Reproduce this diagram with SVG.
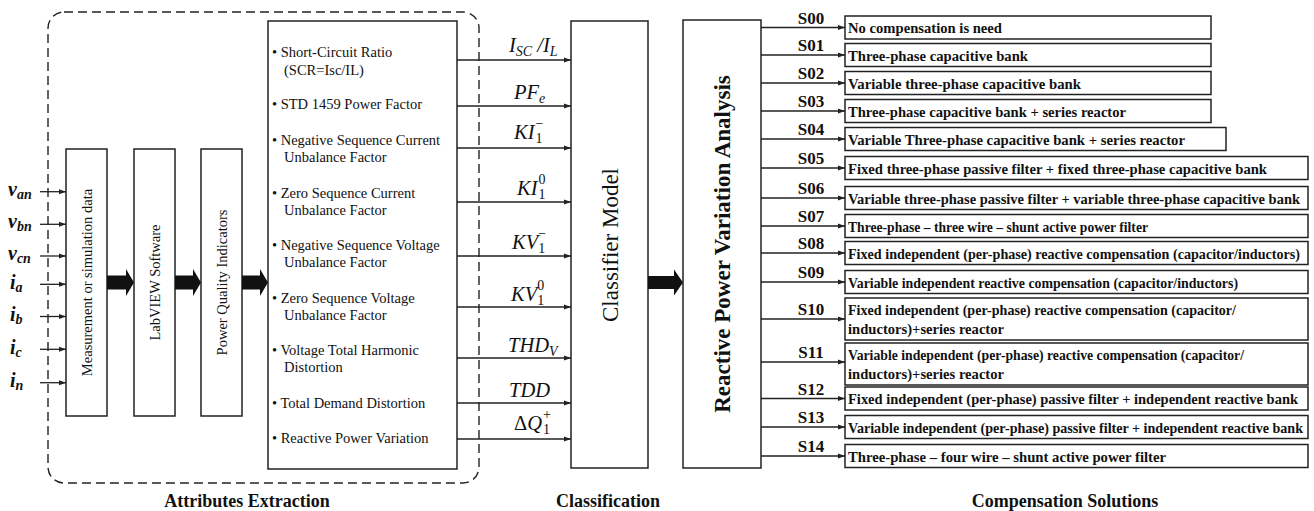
<svg xmlns="http://www.w3.org/2000/svg" width="1314" height="511" viewBox="0 0 1314 511">
<defs>
<style>
.box{fill:#fff;stroke:#222;stroke-width:1.5}
.ln{fill:none;stroke:#222;stroke-width:1.3}
.fat{fill:#111;stroke:none}
.t{font-family:"Liberation Serif","Times New Roman",serif;font-size:14.5px;fill:#111}
.vt{font-family:"Liberation Serif","Times New Roman",serif;font-size:14.5px;fill:#111;text-anchor:middle}
.sb{font-family:"Liberation Serif","Times New Roman",serif;font-size:15.5px;font-weight:bold;fill:#111}
.sw{font-size:14px}
.sl{font-family:"Liberation Serif","Times New Roman",serif;font-size:17px;font-weight:bold;fill:#111;text-anchor:middle}
.cap{font-family:"Liberation Serif","Times New Roman",serif;font-size:18px;font-weight:bold;fill:#111;text-anchor:middle}
.m{font-family:"Liberation Serif","Times New Roman",serif;font-size:20.5px;font-style:italic;fill:#111}
.mi{font-family:"Liberation Serif","Times New Roman",serif;font-size:20px;font-style:italic;font-weight:bold;fill:#111}
.s{font-size:14px}
.u{font-style:normal}
</style>
<marker id="ah" markerUnits="userSpaceOnUse" markerWidth="8" markerHeight="6" refX="7" refY="3" orient="auto">
<path d="M0,0.5 L7,3 L0,5.5 z" fill="#222"/>
</marker>
</defs>
<rect width="1314" height="511" fill="#fff"/>

<g id="attributes-frame">
<rect x="48" y="12" width="431" height="471" rx="16" fill="none" stroke="#222" stroke-width="1.4" stroke-dasharray="9,5"/>
</g>

<g id="inputs">
<text class="mi" x="8" y="196">v<tspan class="s" dy="3">an</tspan></text>
<text class="mi" x="8" y="228">v<tspan class="s" dy="3">bn</tspan></text>
<text class="mi" x="8" y="260">v<tspan class="s" dy="3">cn</tspan></text>
<text class="mi" x="10" y="289">i<tspan class="s" dy="3">a</tspan></text>
<text class="mi" x="10" y="321">i<tspan class="s" dy="3">b</tspan></text>
<text class="mi" x="10" y="354">i<tspan class="s" dy="3">c</tspan></text>
<text class="mi" x="10" y="387">i<tspan class="s" dy="3">n</tspan></text>
</g>

<g id="node-measurement">
<rect class="box" x="66" y="149" width="41" height="267"/>
<text class="vt" transform="translate(91.5,282.5) rotate(-90)">Measurement or simulation data</text>
</g>
<g id="node-labview">
<rect class="box" x="134" y="149" width="41" height="267"/>
<text class="vt" transform="translate(159.5,282.5) rotate(-90)">LabVIEW Software</text>
</g>
<g id="node-pqi">
<rect class="box" x="201" y="149" width="41" height="267"/>
<text class="vt" transform="translate(226.5,282.5) rotate(-90)">Power Quality Indicators</text>
</g>

<g id="node-attributes">
<rect class="box" x="268" y="21" width="189" height="448"/>
<text class="t" x="272" y="57">• Short-Circuit Ratio</text>
<text class="t" x="284" y="75">(SCR=Isc/IL)</text>
<text class="t" x="272" y="109">• STD 1459 Power Factor</text>
<text class="t" x="272" y="145">• Negative Sequence Current</text>
<text class="t" x="284" y="162">Unbalance Factor</text>
<text class="t" x="272" y="198">• Zero Sequence Current</text>
<text class="t" x="284" y="215">Unbalance Factor</text>
<text class="t" x="272" y="250">• Negative Sequence Voltage</text>
<text class="t" x="284" y="267">Unbalance Factor</text>
<text class="t" x="272" y="303">• Zero Sequence Voltage</text>
<text class="t" x="284" y="320">Unbalance Factor</text>
<text class="t" x="272" y="355">• Voltage Total Harmonic</text>
<text class="t" x="284" y="372">Distortion</text>
<text class="t" x="272" y="408">• Total Demand Distortion</text>
<text class="t" x="272" y="443">• Reactive Power Variation</text>
</g>

<g id="node-classifier">
<rect class="box" x="571" y="21" width="77" height="447"/>
<text class="vt" style="font-size:23px" transform="translate(618,245) rotate(-90)">Classifier Model</text>
</g>

<g id="node-rpva">
<rect class="box" x="683" y="20" width="78" height="448"/>
<text class="vt" style="font-size:23px;font-weight:bold" transform="translate(730,244) rotate(-90)">Reactive Power Variation Analysis</text>
</g>

<g id="solutions">
<g id="node-s00"><rect class="box" x="845" y="16" width="366" height="23"/><text class="sb" x="848" y="33" textLength="154" lengthAdjust="spacingAndGlyphs">No compensation is need</text></g>
<g id="node-s01"><rect class="box" x="845" y="43.5" width="366" height="23"/><text class="sb" x="848" y="60.5" textLength="180" lengthAdjust="spacingAndGlyphs">Three-phase capacitive bank</text></g>
<g id="node-s02"><rect class="box" x="845" y="71.5" width="366" height="23"/><text class="sb" x="848" y="88.5" textLength="233" lengthAdjust="spacingAndGlyphs">Variable three-phase capacitive bank</text></g>
<g id="node-s03"><rect class="box" x="845" y="99.5" width="366" height="23"/><text class="sb" x="848" y="116.5" textLength="278" lengthAdjust="spacingAndGlyphs">Three-phase capacitive bank + series reactor</text></g>
<g id="node-s04"><rect class="box" x="845" y="127.5" width="381" height="23"/><text class="sb" x="848" y="144.5" textLength="337" lengthAdjust="spacingAndGlyphs">Variable Three-phase capacitive bank + series reactor</text></g>
<g id="node-s05"><rect class="box" x="845" y="156.5" width="463" height="23"/><text class="sb" x="848" y="173.5" textLength="419" lengthAdjust="spacingAndGlyphs">Fixed three-phase passive filter + fixed three-phase capacitive bank</text></g>
<g id="node-s06"><rect class="box" x="845" y="186.5" width="463" height="23"/><text class="sb sw" x="848" y="203.5" textLength="452" lengthAdjust="spacingAndGlyphs">Variable three-phase passive filter + variable three-phase capacitive bank</text></g>
<g id="node-s07"><rect class="box" x="845" y="214.5" width="463" height="23"/><text class="sb" x="848" y="231.5" textLength="300" lengthAdjust="spacingAndGlyphs">Three-phase – three wire – shunt active power filter</text></g>
<g id="node-s08"><rect class="box" x="845" y="241.5" width="463" height="23"/><text class="sb sw" x="848" y="258.5" textLength="452" lengthAdjust="spacingAndGlyphs">Fixed independent (per-phase) reactive compensation (capacitor/inductors)</text></g>
<g id="node-s09"><rect class="box" x="845" y="270.5" width="463" height="23"/><text class="sb" x="848" y="287.5" textLength="390" lengthAdjust="spacingAndGlyphs">Variable independent reactive compensation (capacitor/inductors)</text></g>
<g id="node-s10"><rect class="box" x="845" y="298" width="463" height="42"/><text class="sb" x="848" y="314.5" textLength="388" lengthAdjust="spacingAndGlyphs">Fixed independent (per-phase) reactive compensation (capacitor/</text><text class="sb" x="848" y="333.5" textLength="156" lengthAdjust="spacingAndGlyphs">inductors)+series reactor</text></g>
<g id="node-s11"><rect class="box" x="845" y="343" width="463" height="42"/><text class="sb" x="848" y="359.5" textLength="396" lengthAdjust="spacingAndGlyphs">Variable independent (per-phase) reactive compensation (capacitor/</text><text class="sb" x="848" y="378.5" textLength="156" lengthAdjust="spacingAndGlyphs">inductors)+series reactor</text></g>
<g id="node-s12"><rect class="box" x="845" y="387" width="463" height="23"/><text class="sb sw" x="848" y="404" textLength="450" lengthAdjust="spacingAndGlyphs">Fixed independent (per-phase) passive filter + independent reactive bank</text></g>
<g id="node-s13"><rect class="box" x="845" y="415.5" width="463" height="23"/><text class="sb sw" x="848" y="432.5" textLength="455" lengthAdjust="spacingAndGlyphs">Variable independent (per-phase) passive filter + independent reactive bank</text></g>
<g id="node-s14"><rect class="box" x="845" y="444.5" width="463" height="23"/><text class="sb" x="848" y="461.5" textLength="318" lengthAdjust="spacingAndGlyphs">Three-phase – four wire – shunt active power filter</text></g>
</g>

<g id="connectors">
<line class="ln" x1="40" y1="191.7" x2="66" y2="191.7" marker-end="url(#ah)"/>
<line class="ln" x1="40" y1="224.3" x2="66" y2="224.3" marker-end="url(#ah)"/>
<line class="ln" x1="40" y1="256" x2="66" y2="256" marker-end="url(#ah)"/>
<line class="ln" x1="40" y1="284.3" x2="66" y2="284.3" marker-end="url(#ah)"/>
<line class="ln" x1="40" y1="316.5" x2="66" y2="316.5" marker-end="url(#ah)"/>
<line class="ln" x1="40" y1="349.3" x2="66" y2="349.3" marker-end="url(#ah)"/>
<line class="ln" x1="40" y1="382.7" x2="66" y2="382.7" marker-end="url(#ah)"/>

<polygon class="fat" points="107,275.5 126,275.5 126,269 134,282.5 126,296 126,289.5 107,289.5"/>
<polygon class="fat" points="175,275.5 193,275.5 193,269 201,282.5 193,296 193,289.5 175,289.5"/>
<polygon class="fat" points="242,275.5 260,275.5 260,269 268,282.5 260,296 260,289.5 242,289.5"/>
<polygon class="fat" points="648,276 674,276 674,269.5 683,282.5 674,295.5 674,289 648,289"/>

<line class="ln" x1="457" y1="60" x2="571" y2="60" marker-end="url(#ah)"/>
<line class="ln" x1="457" y1="106" x2="571" y2="106" marker-end="url(#ah)"/>
<line class="ln" x1="457" y1="148" x2="571" y2="148" marker-end="url(#ah)"/>
<line class="ln" x1="457" y1="202" x2="571" y2="202" marker-end="url(#ah)"/>
<line class="ln" x1="457" y1="256" x2="571" y2="256" marker-end="url(#ah)"/>
<line class="ln" x1="457" y1="307" x2="571" y2="307" marker-end="url(#ah)"/>
<line class="ln" x1="457" y1="358" x2="571" y2="358" marker-end="url(#ah)"/>
<line class="ln" x1="457" y1="403" x2="571" y2="403" marker-end="url(#ah)"/>
<line class="ln" x1="457" y1="439" x2="571" y2="439" marker-end="url(#ah)"/>

<line class="ln" x1="761" y1="27.5" x2="845" y2="27.5" marker-end="url(#ah)"/>
<line class="ln" x1="761" y1="55" x2="845" y2="55" marker-end="url(#ah)"/>
<line class="ln" x1="761" y1="83" x2="845" y2="83" marker-end="url(#ah)"/>
<line class="ln" x1="761" y1="111" x2="845" y2="111" marker-end="url(#ah)"/>
<line class="ln" x1="761" y1="139" x2="845" y2="139" marker-end="url(#ah)"/>
<line class="ln" x1="761" y1="168" x2="845" y2="168" marker-end="url(#ah)"/>
<line class="ln" x1="761" y1="198" x2="845" y2="198" marker-end="url(#ah)"/>
<line class="ln" x1="761" y1="226" x2="845" y2="226" marker-end="url(#ah)"/>
<line class="ln" x1="761" y1="253" x2="845" y2="253" marker-end="url(#ah)"/>
<line class="ln" x1="761" y1="282" x2="845" y2="282" marker-end="url(#ah)"/>
<line class="ln" x1="761" y1="319" x2="845" y2="319" marker-end="url(#ah)"/>
<line class="ln" x1="761" y1="362" x2="845" y2="362" marker-end="url(#ah)"/>
<line class="ln" x1="761" y1="398.5" x2="845" y2="398.5" marker-end="url(#ah)"/>
<line class="ln" x1="761" y1="427" x2="845" y2="427" marker-end="url(#ah)"/>
<line class="ln" x1="761" y1="456" x2="845" y2="456" marker-end="url(#ah)"/>
</g>

<g id="connector-labels">
<text class="m" x="509" y="52">I<tspan class="s" dy="4">SC</tspan><tspan dy="-4"> /</tspan><tspan>I</tspan><tspan class="s" dy="4">L</tspan></text>
<text class="m" x="514" y="99">PF<tspan class="s" dy="4">e</tspan></text>
<text class="m" x="514" y="139">KI<tspan class="s u" dx="1" dy="4">1</tspan><tspan class="s u" dx="-7" dy="-15">−</tspan></text>
<text class="m" x="517" y="195">KI<tspan class="s u" dx="1" dy="4">1</tspan><tspan class="s u" dx="-7" dy="-15">0</tspan></text>
<text class="m" x="512" y="249">KV<tspan class="s u" dy="4">1</tspan><tspan class="s u" dx="-7" dy="-15">−</tspan></text>
<text class="m" x="511" y="301">KV<tspan class="s u" dy="4">1</tspan><tspan class="s u" dx="-7" dy="-15">0</tspan></text>
<text class="m" x="508" y="352">THD<tspan class="s" dy="4">V</tspan></text>
<text class="m" x="509" y="397">TDD</text>
<text class="m" x="514" y="430"><tspan class="u">Δ</tspan>Q<tspan class="s u" dx="1" dy="4">1</tspan><tspan class="s u" dx="-7" dy="-15">+</tspan></text>
</g>

<g id="solution-labels">
<text class="sl" x="811" y="23.5">S00</text>
<text class="sl" x="811" y="51">S01</text>
<text class="sl" x="811" y="79">S02</text>
<text class="sl" x="811" y="107">S03</text>
<text class="sl" x="811" y="135">S04</text>
<text class="sl" x="811" y="164">S05</text>
<text class="sl" x="811" y="194">S06</text>
<text class="sl" x="811" y="222">S07</text>
<text class="sl" x="811" y="249">S08</text>
<text class="sl" x="811" y="278">S09</text>
<text class="sl" x="811" y="315">S10</text>
<text class="sl" x="811" y="358">S11</text>
<text class="sl" x="811" y="394.5">S12</text>
<text class="sl" x="811" y="423">S13</text>
<text class="sl" x="811" y="452">S14</text>
</g>

<g id="section-captions">
<text class="cap" x="247" y="507">Attributes Extraction</text>
<text class="cap" x="608" y="507">Classification</text>
<text class="cap" x="1065" y="507">Compensation Solutions</text>
</g>
</svg>
